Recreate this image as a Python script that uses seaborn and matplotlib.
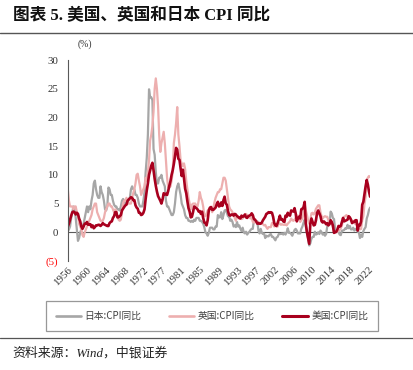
import numpy as np
import pandas as pd
import matplotlib
matplotlib.use("Agg")
import matplotlib.pyplot as plt
import seaborn as sns
from matplotlib.lines import Line2D

# ---------------- data (quarterly YoY %, 1956Q1 .. 2023Q1) ----------------
us_cpi = [
    1.0, 1.5, 2.2, 2.9,  3.5, 3.6, 3.5, 3.1,  3.4, 3.2, 2.4, 1.9,  1.0, 0.6, 1.0, 1.5,
    1.5, 1.8, 1.3, 1.4,  1.4, 0.9, 1.2, 0.7,  0.9, 1.2, 1.2, 1.3,  1.3, 1.1, 1.3, 1.6,
    1.4, 1.3, 1.2, 1.1,  1.1, 1.6, 1.8, 1.9,  2.5, 2.8, 3.5, 3.5,  2.6, 2.6, 2.8, 3.0,
    3.8, 4.1, 4.4, 4.7,  4.8, 5.5, 5.7, 5.9,  6.1, 6.0, 5.6, 5.6,  4.7, 4.3, 4.1, 3.4,
    3.4, 3.0, 3.1, 3.4,  4.0, 5.8, 7.3, 8.5,  10.0, 10.8, 11.6, 12.1,  10.8, 9.3, 8.1, 7.1,
    6.3, 5.9, 5.5, 5.0,  5.7, 6.8, 6.6, 6.7,  6.5, 7.2, 8.1, 8.9,  10.0, 10.8, 11.9, 13.2,
    14.7, 14.4, 12.8, 12.6,  11.1, 9.8, 10.9, 9.4,  7.6, 6.8, 5.4, 4.2,  3.6, 2.6, 2.7, 3.5,
    4.5, 4.3, 4.2, 4.0,  3.6, 3.7, 3.2, 3.6,  2.5, 1.7, 1.6, 1.2,  2.1, 3.8, 4.3, 4.4,
    3.9, 3.9, 4.1, 4.3,  4.9, 5.3, 4.5, 4.6,  5.2, 4.6, 5.6, 6.2,  5.0, 4.8, 3.7, 3.0,
    2.9, 3.1, 3.1, 2.9,  3.2, 3.1, 2.8, 2.7,  2.5, 2.4, 2.9, 2.7,  2.8, 3.1, 2.6, 2.5,
    2.8, 2.9, 3.0, 3.3,  3.0, 2.3, 2.2, 1.9,  1.5, 1.6, 1.5, 1.5,  1.7, 2.1, 2.4, 2.7,
    3.2, 3.3, 3.5, 3.4,  3.5, 3.4, 2.7, 1.6,  1.2, 1.1, 1.6, 2.2,  2.9, 2.2, 2.3, 1.9,
    1.8, 2.9, 2.7, 3.4,  3.0, 2.9, 3.8, 3.7,  3.6, 4.2, 3.3, 1.9,  2.4, 2.7, 2.4, 4.0,
    4.1, 4.4, 5.3, 1.5,  0.0, -1.0, -2.0, 1.5,  2.4, 1.8, 1.2, 1.3,  2.1, 3.4, 3.8, 3.3,
    2.8, 1.9, 1.7, 1.9,  1.7, 1.4, 1.6, 1.2,  1.4, 2.1, 1.8, 1.2,  -0.1, 0.0, 0.1, 0.5,
    1.1, 1.0, 1.1, 1.8,  2.5, 1.9, 2.0, 2.1,  2.2, 2.8, 2.6, 2.2,  1.6, 1.8, 1.8, 2.1,
    2.1, 0.3, 1.3, 1.2,  1.9, 4.8, 5.3, 6.7,  8.0, 9.1, 8.3, 7.1,  6.2,
]
uk_cpi = [
    7.5, 5.5, 4.5, 4.5,  4.5, 4.0, 4.5, 4.5,  3.5, 3.0, 1.5, 1.0,  0.5, -0.5, -0.8, 0.0,
    0.5, 1.0, 1.5, 2.0,  2.5, 3.0, 4.0, 4.5,  5.0, 5.0, 3.5, 3.0,  2.5, 2.0, 2.0, 2.0,
    2.5, 3.5, 4.0, 4.5,  5.0, 5.0, 4.5, 4.5,  4.0, 3.5, 4.0, 3.8,  2.7, 2.2, 2.0, 2.2,
    3.5, 5.0, 5.5, 5.5,  6.0, 5.5, 5.0, 5.0,  5.0, 6.0, 6.8, 7.5,  8.5, 10.0, 10.2, 9.0,
    8.0, 6.5, 7.0, 7.5,  8.0, 9.5, 9.0, 10.5,  12.5, 16.0, 17.0, 18.5,  21.0, 25.0, 26.8, 25.0,
    22.0, 17.0, 14.0, 15.5,  16.5, 17.5, 15.5, 12.5,  9.5, 7.8, 7.8, 8.0,  9.0, 10.5, 15.5, 17.0,
    19.0, 21.8, 17.0, 15.0,  12.5, 12.0, 11.5, 12.0,  11.0, 9.0, 7.5, 6.0,  5.0, 4.0, 4.8, 5.0,
    5.0, 5.0, 4.5, 4.5,  5.5, 7.0, 6.0, 5.5,  4.5, 3.0, 2.8, 3.2,  3.8, 4.0, 4.2, 4.0,
    3.5, 4.2, 5.2, 6.0,  6.5, 7.0, 7.0, 7.5,  7.5, 8.5, 9.5, 9.5,  9.0, 7.5, 6.0, 4.5,
    4.0, 3.8, 3.5, 3.0,  2.5, 2.0, 2.8, 2.5,  2.4, 2.5, 2.3, 2.4,  2.8, 3.0, 3.2, 3.0,
    2.8, 2.6, 2.4, 2.6,  1.8, 1.7, 1.8, 1.8,  1.6, 1.8, 1.4, 1.5,  1.6, 1.4, 1.2, 1.3,
    0.9, 0.6, 0.9, 0.9,  0.9, 1.6, 1.6, 1.0,  1.5, 1.0, 1.0, 1.6,  1.5, 1.3, 1.4, 1.3,
    1.3, 1.4, 1.2, 1.5,  1.7, 1.9, 2.4, 2.1,  2.0, 2.2, 2.5, 2.9,  2.9, 2.6, 1.8, 2.1,
    2.4, 3.4, 4.9, 3.8,  3.0, 2.1, 1.5, 2.1,  3.3, 3.4, 3.1, 3.4,  4.1, 4.4, 4.7, 4.7,
    3.5, 2.8, 2.4, 2.7,  2.8, 2.7, 2.7, 2.1,  1.7, 1.7, 1.5, 0.9,  0.1, 0.0, 0.0, 0.1,
    0.3, 0.4, 0.7, 1.2,  2.1, 2.7, 2.8, 3.0,  2.7, 2.4, 2.5, 2.3,  1.9, 2.0, 1.8, 1.4,
    1.7, 0.6, 0.6, 0.5,  0.6, 2.1, 2.8, 4.9,  6.2, 9.0, 9.5, 9.8,  9.6,
]
jp_cpi = [
    0.2, 0.5, 1.0, 2.5,  3.5, 4.5, 4.0, 2.5,  0.5, -1.5, -1.0, 0.0,  0.5, 1.0, 1.5, 2.5,
    3.5, 4.5, 3.5, 4.5,  4.0, 5.5, 6.5, 8.5,  9.0, 7.5, 6.5, 6.0,  6.0, 8.0, 7.0, 6.5,
    5.5, 4.0, 3.8, 4.5,  7.8, 7.5, 6.5, 6.5,  5.5, 4.8, 4.5, 4.5,  4.0, 4.0, 3.8, 4.5,
    5.5, 5.8, 5.5, 5.0,  5.0, 5.0, 5.8, 6.0,  7.5, 8.0, 7.5, 7.5,  6.5, 6.5, 6.0, 5.0,
    4.5, 4.5, 4.5, 5.5,  7.0, 10.5, 13.0, 17.0,  24.9, 23.5, 23.5, 23.0,  14.5, 13.5, 10.5, 8.5,
    8.5, 9.5, 9.5, 10.0,  9.0, 8.5, 8.0, 5.5,  4.5, 4.5, 4.0, 3.5,  3.0, 3.0, 3.5, 5.0,
    7.0, 8.0, 8.5, 7.5,  6.5, 5.0, 4.5, 4.0,  3.0, 2.5, 2.5, 2.0,  2.0, 1.8, 2.0, 1.8,
    2.2, 2.0, 2.5, 2.5,  2.5, 2.0, 2.0, 1.8,  1.5, 0.9, 0.0, -0.2,  -0.6, -0.1, 0.8, 0.8,
    0.8, 0.5, 0.5, 1.0,  1.0, 3.0, 2.6, 2.6,  3.5, 2.3, 3.0, 3.8,  3.9, 3.4, 2.8, 2.8,
    2.0, 2.2, 1.8, 1.0,  1.2, 0.9, 1.8, 1.0,  1.2, 0.6, 0.2, 0.8,  0.0, -0.2, 0.1, -0.4,
    -0.1, 0.1, 0.4, 0.6,  0.6, 2.2, 2.0, 1.9,  1.9, 0.3, -0.2, 0.6,  -0.1, -0.3, -0.2, -1.0,
    -0.6, -0.7, -0.7, -0.4,  -0.3, -0.8, -0.8, -1.1,  -1.4, -0.9, -0.8, -0.3,  -0.3, -0.3, -0.2, -0.4,
    -0.1, -0.4, 0.0, 0.7,  -0.1, -0.1, -0.3, -0.6,  -0.1, 0.4, 0.6, 0.3,  -0.2, -0.2, -0.2, 0.6,
    1.0, 1.7, 2.2, 1.0,  -0.1, -1.1, -2.3, -1.9,  -1.1, -0.8, -0.8, 0.1,  -0.4, -0.3, 0.0, -0.3,
    0.3, 0.0, -0.4, -0.2,  -0.6, -0.3, 1.0, 1.5,  1.5, 3.6, 3.3, 2.5,  2.3, 0.5, 0.1, 0.2,
    0.1, -0.4, -0.5, 0.3,  0.3, 0.4, 0.7, 0.6,  1.3, 0.7, 1.1, 0.5,  0.5, 0.8, 0.3, 0.6,
    0.5, 0.1, 0.0, -1.0,  -0.4, -0.8, 0.2, 0.6,  0.9, 2.4, 3.0, 3.9,  4.3,
]
series_names = ["日本:CPI同比", "英国:CPI同比", "美国:CPI同比"]
x_tick_labels = ["1956", "1960", "1964", "1968", "1972", "1977", "1981", "1985", "1989",
                 "1993", "1997", "2002", "2006", "2010", "2014", "2018", "2022"]
y_ticks = [-5, 0, 5, 10, 15, 20, 25, 30]
y_tick_labels = ["(5)", "0", "5", "10", "15", "20", "25", "30"]

# ---------------- build frame ----------------
periods = pd.period_range("1956Q1", "2023Q1", freq="Q")
xpos = periods.year + (periods.quarter - 1) / 4 + 0.125
frames = []
for name, vals in zip(series_names, [jp_cpi, uk_cpi, us_cpi]):
    frames.append(pd.DataFrame({"t": xpos, "v": vals, "s": name}))
df = pd.concat(frames, ignore_index=True)

colors = {"日本:CPI同比": "#A6A6A6", "英国:CPI同比": "#EDAFAF", "美国:CPI同比": "#A8001E"}
widths = {"日本:CPI同比": 1.6, "英国:CPI同比": 1.6, "美国:CPI同比": 1.9}

# ---------------- style ----------------
sns.set_style("white")
plt.rcParams["font.family"] = ["Liberation Serif", "Noto Sans CJK SC", "DejaVu Sans"]
cjk = ["Noto Sans CJK SC", "DejaVu Sans"]
mixed = ["Liberation Serif", "Noto Sans CJK SC"]

fig = plt.figure(figsize=(4.14, 3.70), dpi=100)
ax = fig.add_axes([68 / 414, 1 - 261 / 370, 302 / 414, 201 / 370])

for name in series_names:
    sub = df[df["s"] == name]
    sns.lineplot(data=sub, x="t", y="v", ax=ax, color=colors[name],
                 linewidth=widths[name], legend=False)

ax.axhline(0, color="#5a5a5a", lw=0.8, zorder=1)

start = 1956 + 2 / 12
ax.set_xlim(start, 2023.1)
ax.set_ylim(-5, 30)
ax.set_xlabel("")
ax.set_ylabel("")

xt = [start + k * 50 / 12 for k in range(len(x_tick_labels))]
ax.set_xticks(xt)
ax.set_xticklabels(x_tick_labels, rotation=45, ha="right", va="top",
                   rotation_mode="anchor", fontsize=7.8, color="#333333")
ax.tick_params(axis="x", length=0, pad=3)

ax.set_yticks(y_ticks)
ax.set_yticklabels(y_tick_labels, fontsize=7.8, color="#333333")
ax.tick_params(axis="y", length=3, width=0.8, color="#595959", pad=4, direction="out")
for lbl in ax.get_yticklabels():
    if lbl.get_text().startswith("("):
        lbl.set_color("#FF0000")

for sp in ["top", "right", "bottom"]:
    ax.spines[sp].set_visible(False)
ax.spines["left"].set_color("#595959")
ax.spines["left"].set_linewidth(0.8)
ax.grid(False)

# (%) label
fig.text(78 / 414, 1 - 44 / 370, "(%)", fontsize=7, color="#333333",
         ha="left", va="center", family=mixed)

# title
fig.text(13 / 414, 1 - 16 / 370, "图表 5. 美国、英国和日本 CPI 同比", fontsize=12,
         fontweight="bold", ha="left", va="center", family=mixed, color="#111111")
fig.add_artist(Line2D([0, 1], [1 - 33 / 370, 1 - 33 / 370], color="#555555", lw=1.0,
                      transform=fig.transFigure))

# legend
handles = [Line2D([0], [0], color=colors[n], lw=widths[n] + 0.3) for n in series_names]
leg = fig.legend(handles, series_names, loc="center", ncol=3,
                 bbox_to_anchor=(212 / 414, 1 - 316 / 370), frameon=True, fancybox=False,
                 prop={"family": cjk, "size": 7}, handlelength=2.6, columnspacing=2.8,
                 handletextpad=0.4, borderpad=1.0)
leg.get_frame().set_edgecolor("#7f7f7f")
leg.get_frame().set_linewidth(0.9)
for t in leg.get_texts():
    t.set_color("#404040")

# source
fig.add_artist(Line2D([0, 1], [1 - 338 / 370, 1 - 338 / 370], color="#555555", lw=0.9,
                      transform=fig.transFigure))
fig.text(12 / 414, 1 - 353 / 370, "资料来源：Wind，中银证券", fontsize=9.3, style="italic",
         ha="left", va="center", family=mixed, color="#222222")

fig.savefig("out.png", dpi=100)
